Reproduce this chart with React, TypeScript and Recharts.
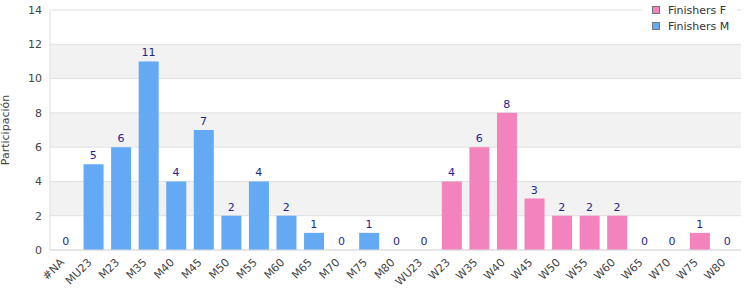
import React from 'react'
import { ComposedChart, Bar, Line, XAxis, YAxis, CartesianGrid, Legend, LabelList } from 'recharts'

const categories = ['#NA', 'MU23', 'M23', 'M35', 'M40', 'M45', 'M50', 'M55', 'M60', 'M65', 'M70', 'M75', 'M80',
  'WU23', 'W23', 'W35', 'W40', 'W45', 'W50', 'W55', 'W60', 'W65', 'W70', 'W75', 'W80']
const finishersM = [0, 5, 6, 11, 4, 7, 2, 4, 2, 1, 0, 1, 0, null, null, null, null, null, null, null, null, null, null, null, null]
const finishersF = [null, null, null, null, null, null, null, null, null, null, null, null, null, 0, 4, 6, 8, 3, 2, 2, 2, 0, 0, 1, 0]
const yTicks = [0, 2, 4, 6, 8, 10, 12, 14]

// one label per category: whichever series has the value
const data = categories.map((cat, i) => ({
  cat,
  f: finishersF[i],
  m: finishersM[i],
  label: finishersF[i] ?? finishersM[i],
}))

const FONT = '"DejaVu Sans", Verdana, sans-serif'
const LABEL_COLOR = '#1f1f91'

function AngledTick({ x, y, payload }: any) {
  return (
    <g transform={`translate(${x - 1},${y + 5})`}>
      <text x={0} y={0} textAnchor="end" transform="rotate(-45)" fill="#444" fontSize={11} fontFamily={FONT}>
        {payload.value}
      </text>
    </g>
  )
}

function YLabel({ viewBox }: any) {
  const cx = viewBox.x + 5
  const cy = viewBox.y + viewBox.height / 2
  return (
    <text x={cx} y={cy} transform={`rotate(-90, ${cx}, ${cy})`} textAnchor="middle" dominantBaseline="central"
      fill="#444" fontSize={11} fontFamily={FONT}>
      Participación
    </text>
  )
}

function LegendBox({ payload }: any) {
  return (
    <div style={{ background: '#fff', padding: '2px 0 4px 9px', fontFamily: FONT, fontSize: 11, color: '#333' }}>
      {payload.filter((p: any) => p.type !== 'none').map((p: any) => (
        <div key={p.value} style={{ display: 'flex', alignItems: 'center', height: 16 }}>
          <span style={{ display: 'inline-block', width: 6, height: 6, background: p.color, border: '1px solid #777', marginRight: 8 }} />
          <span>{p.value}</span>
        </div>
      ))}
    </div>
  )
}

export default function App() {
  return (
    <div style={{ width: 750, height: 300 }}>
      <style>{'body{margin:0}'}</style>
      <ComposedChart width={750} height={300} data={data} margin={{ top: 10, right: 9, left: 0, bottom: 0 }}
        style={{ fontFamily: FONT }}>
        <CartesianGrid vertical={false} stroke="#e0e0e0" horizontalFill={['#ffffff', '#f2f2f2']} />
        <XAxis dataKey="cat" interval={0} height={50} tickLine={false} stroke="#ddd" tick={<AngledTick />}
          padding={{ left: 2, right: 0 }} />
        <YAxis domain={[0, 14]} ticks={yTicks} width={50} tickLine={false} stroke="#ddd"
          tick={{ fill: '#444', fontSize: 11 }} label={<YLabel />} />
        <YAxis yAxisId="r" orientation="right" width={0} domain={[0, 14]} tick={false} tickLine={false} stroke="#ddd" />
        <Legend layout="horizontal" verticalAlign="middle" align="center" content={<LegendBox />}
          wrapperStyle={{ top: 0, left: 643, width: 94 }} />
        <Bar dataKey="f" name="Finishers F" stackId="a" fill="#f283bc" barSize={20} isAnimationActive={false} />
        <Bar dataKey="m" name="Finishers M" stackId="a" fill="#63a9f3" barSize={20} isAnimationActive={false} />
        <Line dataKey="label" stroke="none" dot={false} activeDot={false} legendType="none" isAnimationActive={false}>
          <LabelList dataKey="label" position="top" offset={5} fill={LABEL_COLOR} fontSize={11} />
        </Line>
      </ComposedChart>
    </div>
  )
}
